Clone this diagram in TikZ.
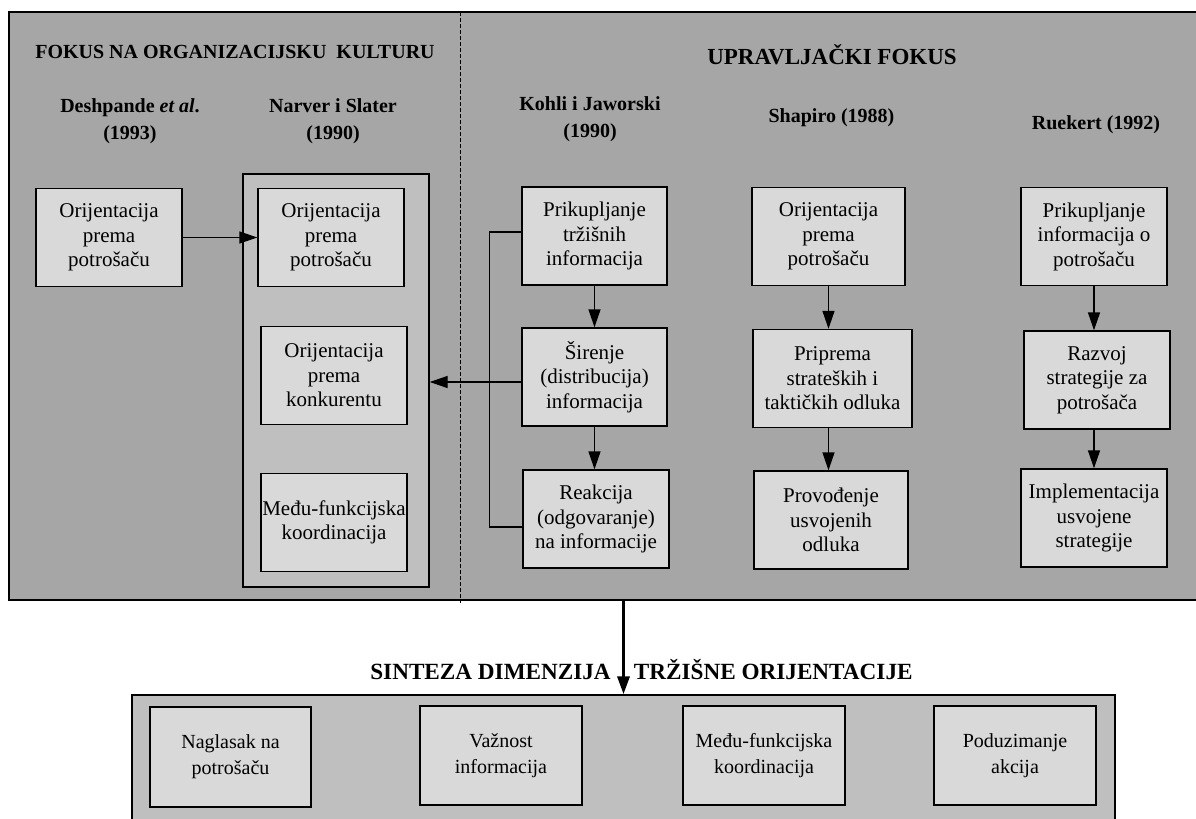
\documentclass[tikz,border=0pt]{standalone}
\usepackage{fontspec}
\setmainfont{Liberation Serif}
\usetikzlibrary{arrows.meta}
\definecolor{rahmenfarbe}{RGB}{166,166,166}
\definecolor{gruppenfarbe}{RGB}{191,191,191}
\definecolor{kastenfarbe}{RGB}{217,217,217}

\begin{document}
\begin{tikzpicture}[x=0.5pt, y=-0.5pt,
    kasten/.style={draw=black, fill=kastenfarbe, line width=0.7pt, align=center, inner sep=0pt,
        minimum width=73pt, minimum height=49pt, font=\fontsize{10.5}{12.25}\selectfont},
    gruppe/.style={draw=black, fill=gruppenfarbe, line width=0.7pt, inner sep=0pt},
    titel/.style={align=center, font=\fontsize{10}{13.5}\selectfont\bfseries},
    pfeil/.style={line width=0.7pt, -{Triangle[length=9pt,width=6pt]}},
    dickpfeil/.style={line width=1.7pt, -{Triangle[length=9pt,width=6pt]}},
    linie/.style={line width=0.7pt}]
    \clip (0,0) rectangle (1196,819);

    % gornji dio
    \draw[line width=0.7pt, fill=rahmenfarbe] (9,12) rectangle (1210,600);
    \draw[line width=0.5pt, dash pattern=on 2pt off 1pt] (460,12) -- (460,603);

    \node[titel] (kultura) at (235,52) {FOKUS NA ORGANIZACIJSKU\ \ KULTURU};
    \node[titel, font=\fontsize{11.5}{13.5}\selectfont\bfseries] (upravljanje) at (832,55) {UPRAVLJAČKI FOKUS};

    \node[titel] (deshpande) at (130,121.5) {Deshpande \textit{et al}.\\(1993)};
    \node[titel] (narver) at (333,121.5) {Narver i Slater\\(1990)};
    \node[titel] (kohli) at (590,119.5) {Kohli i Jaworski\\(1990)};
    \node[titel] (shapiro) at (831.5,118) {Shapiro (1988)};
    \node[titel] (ruekert) at (1096,125) {Ruekert (1992)};

    \node[kasten] (d1) at (109,237.5) {Orijentacija\\prema\\potrošaču};

    \node[gruppe, minimum width=93pt, minimum height=206.5pt] (ns) at (336,380.5) {};
    \node[kasten] (ns1) at (331,237.5) {Orijentacija\\prema\\potrošaču};
    \node[kasten] (ns2) at (334,375.5) {Orijentacija\\prema\\konkurentu};
    \node[kasten] (ns3) at (334,522.5) {Među-funkcijska\\koordinacija};

    \node[kasten, minimum width=72.5pt] (k1) at (594.5,236) {Prikupljanje\\tržišnih\\informacija};
    \node[kasten, minimum width=72.5pt] (k2) at (594.5,377) {Širenje\\(distribucija)\\informacija};
    \node[kasten, minimum width=73pt] (k3) at (596,519) {Reakcija\\(odgovaranje)\\na informacije};

    \node[kasten, minimum width=76.5pt] (s1) at (828.5,236.5) {Orijentacija\\prema\\potrošaču};
    \node[kasten, minimum width=79.5pt] (s2) at (832.5,378.5) {Priprema\\strateških i\\taktičkih odluka};
    \node[kasten, minimum width=77pt] (s3) at (831,520) {Provođenje\\usvojenih\\odluka};

    \node[kasten] (r1) at (1094,236.5) {Prikupljanje\\informacija o\\potrošaču};
    \node[kasten] (r2) at (1097,380) {Razvoj\\strategije za\\potrošača};
    \node[kasten] (r3) at (1094,518) {Implementacija\\usvojene\\strategije};

    \draw[pfeil] (d1) -- (ns1);
    \draw[pfeil] (k1) -- (k2);
    \draw[pfeil] (k2.south -| k1) -- (k3.north -| k1);
    \draw[pfeil] (s1) -- (s1 |- s2.north);
    \draw[pfeil] (s2.south -| s1) -- (s1 |- s3.north);
    \draw[pfeil] (r1) -- (r1 |- r2.north);
    \draw[pfeil] (r2.south -| r1) -- (r3);
    \draw[linie] ([yshift=2pt]k1.west) -- ++(-32,0) |- ([yshift=-4pt]k3.west);
    \draw[pfeil] ([yshift=-2.5pt]k2.west) -- ([yshift=-2.5pt]k2.west -| ns.east);

    % sinteza
    \coordinate (izvor) at (623.5,600);
    \node[gruppe, minimum width=491.5pt, minimum height=67.5pt] (sinteza) at (623.5,762.5) {};
    \draw[dickpfeil] (izvor) -- (sinteza.north);
    \node[titel, font=\fontsize{11.6}{14}\selectfont\bfseries] (naslov) at (641.5,670) {SINTEZA DIMENZIJA\hspace{1em}TRŽIŠNE ORIJENTACIJE};

    \node[kasten, minimum width=80.5pt, minimum height=50pt, font=\fontsize{10}{13}\selectfont] (b1) at (230.5,757) {Naglasak na\\potrošaču};
    \node[kasten, minimum width=81pt, minimum height=49.5pt, font=\fontsize{10}{13}\selectfont] (b2) at (501,755.5) {Važnost\\informacija};
    \node[kasten, minimum width=81pt, minimum height=49.5pt, font=\fontsize{10}{13}\selectfont] (b3) at (764,755.5) {Među-funkcijska\\koordinacija};
    \node[kasten, minimum width=81pt, minimum height=49.5pt, font=\fontsize{10}{13}\selectfont] (b4) at (1015,755.5) {Poduzimanje\\akcija};

\end{tikzpicture}
\end{document}
